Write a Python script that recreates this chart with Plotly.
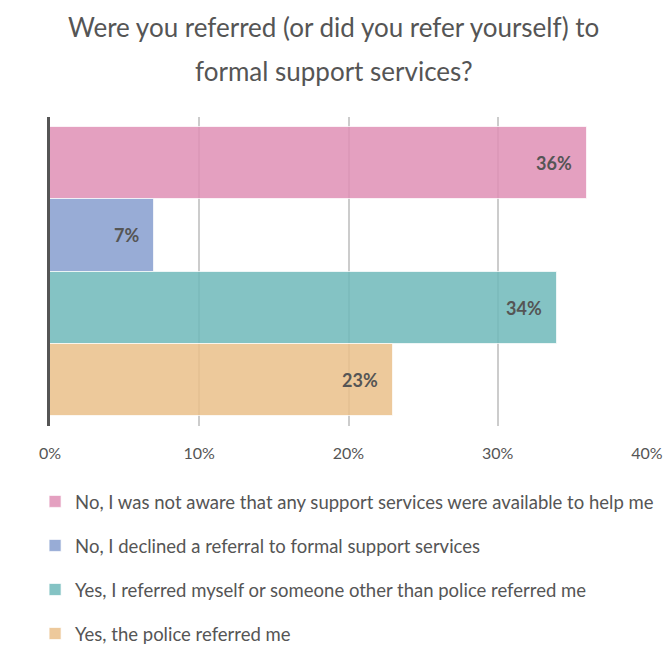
import plotly.graph_objects as go

# Survey responses (percent of respondents)
categories = [
    "No, I was not aware that any support services were available to help me",
    "No, I declined a referral to formal support services",
    "Yes, I referred myself or someone other than police referred me",
    "Yes, the police referred me",
]
values = [36, 7, 34, 23]
colors = [
    "rgba(223,143,181,0.85)",
    "rgba(134,157,207,0.85)",
    "rgba(111,185,186,0.85)",
    "rgba(234,191,137,0.85)",
]
tick_vals = [0, 10, 20, 30, 40]
tick_text = ["0%", "10%", "20%", "30%", "40%"]
title_lines = [
    "Were you referred (or did you refer yourself) to",
    "formal support services?",
]

TEXT = "#555555"
FONT = "Lato"

fig = go.Figure()
for i, (cat, val, col) in enumerate(zip(categories, values, colors)):
    fig.add_trace(go.Bar(
        y=[cat], x=[val], orientation="h", name=cat,
        marker=dict(color=col, line=dict(color="rgba(255,255,255,0.7)", width=1)),
        width=1, legendgroup=f"g{i}",
        hoverinfo="x+name",
    ))
    fig.add_annotation(
        x=val, y=cat, xref="x", yref="y", text=f"<b>{val}%</b>",
        showarrow=False, xanchor="right", xshift=-13,
        font=dict(family=FONT, size=18, color=TEXT),
    )

# Two-line heading with generous line spacing, centred on the page
for line, ypx in zip(title_lines, [27, 71]):
    fig.add_annotation(
        text=line, x=(333.5 - 50) / 597, y=1 + (117 - ypx) / 309,
        xref="paper", yref="paper",
        xanchor="center", yanchor="middle", showarrow=False,
        font=dict(family=FONT, size=26, color=TEXT),
    )

fig.update_layout(
    width=667, height=646,
    margin=dict(l=50, r=20, t=117, b=220, autoexpand=False),
    paper_bgcolor="white", plot_bgcolor="white",
    barmode="overlay", bargap=0,
    font=dict(family=FONT, color=TEXT),
    xaxis=dict(
        range=[0, 40], tickvals=tick_vals, ticktext=tick_text,
        showgrid=True, gridcolor="#cccccc", gridwidth=1.5,
        zeroline=False, showline=False, ticks="",
        ticklabelstandoff=16, automargin=False,
        tickfont=dict(family=FONT, size=16, color=TEXT),
        fixedrange=True,
    ),
    yaxis=dict(
        categoryorder="array", categoryarray=categories[::-1],
        range=[-0.64, 3.64], showticklabels=False, showgrid=False,
        zeroline=False, showline=True, linecolor="#555555", linewidth=3,
        automargin=False, fixedrange=True,
    ),
    legend=dict(
        orientation="v", x=-0.025, xanchor="left", y=-0.184, yanchor="top",
        traceorder="grouped", tracegroupgap=17,
        font=dict(family=FONT, size=18.5, color=TEXT),
        bgcolor="rgba(0,0,0,0)",
    ),
    showlegend=True,
)

fig.write_html("out.html")
